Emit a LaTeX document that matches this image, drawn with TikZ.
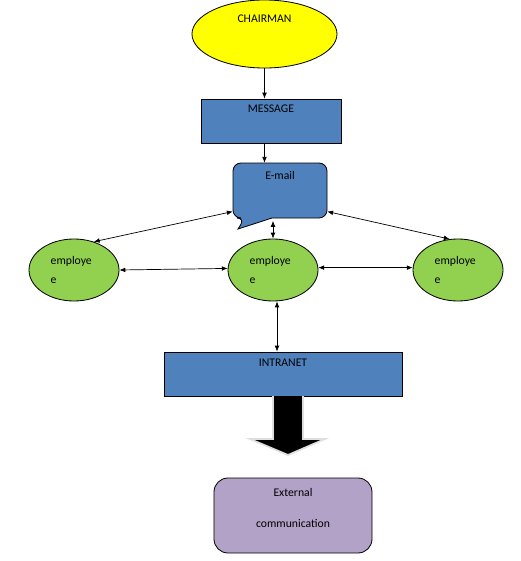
\documentclass[tikz,border=0pt]{standalone}
\usepackage{fontspec}
\setmainfont{Carlito}
\usetikzlibrary{arrows.meta,shapes.geometric}
\definecolor{chairyellow}{HTML}{FFFF00}
\definecolor{boxblue}{HTML}{4F81BD}
\definecolor{empgreen}{HTML}{92D050}
\definecolor{extlilac}{HTML}{B3A2C7}

\tikzset{
  chairnode/.style={ellipse,draw,line width=0.7pt,fill=chairyellow,minimum width=4.35cm,minimum height=2.04cm},
  bluebox/.style={rectangle,draw,line width=0.7pt,fill=boxblue,minimum height=1.32cm},
  empnode/.style={ellipse,draw,line width=0.7pt,fill=empgreen,minimum width=2.7cm,minimum height=1.86cm,
    text width=1.4cm,align=left,inner sep=0pt},
  extbox/.style={rectangle,draw,line width=0.7pt,fill=extlilac,rounded corners=0.42cm,minimum width=4.74cm,minimum height=2.25cm},
  link/.style={semithick,>={Latex[length=5pt,width=4pt]}}
}

\begin{document}
\begin{tikzpicture}[x=0.03cm,y=-0.03cm,font=\fontsize{10}{12}\selectfont]
\useasboundingbox (0,0) rectangle (520,561);

% top of the chart
\node (chair) [chairnode,label={[anchor=center,yshift=-0.57cm]north:CHAIRMAN}] at (264.5,34) {};
\node (msg) [bluebox,minimum width=4.2cm,label={[anchor=center,yshift=-0.3cm]north:MESSAGE}] at (271,121) {};

% e-mail callout
\draw[fill=boxblue,line width=0.7pt] (245,218) -- (238,229) -- (272,218) [rounded corners=0.24cm] -- (327,218) -- (327,163) -- (233,163) -- (233,218) -- cycle;
\node (mail) [minimum width=2.82cm,minimum height=1.65cm,label={[anchor=center,yshift=-0.39cm]north:E-mail}] at (280,190.5) {};

% employees
\node (emp1) [empnode] at (74,270) {employe\\[5pt]e};
\node (emp2) [empnode] at (273,270) {employe\\[5pt]e};
\node (emp3) [empnode] at (458,270) {employe\\[5pt]e};

\node (intra) [bluebox,minimum width=7.14cm,label={[anchor=center,yshift=-0.33cm]north:INTRANET}] at (283,374) {};
\node (ext) [extbox,label={[anchor=center,yshift=-0.45cm]north:External},
  label={[anchor=center,yshift=-1.38cm]north:communication}] at (293,515.5) {};

% connectors
\draw[link,->] (chair.south) -- (chair.south |- msg.north);
\draw[link,->] (chair.south |- msg.south) -- (chair.south |- mail.north);
\draw[link,<->] (mail.204) -- (emp1.55);
\draw[link,<->] (mail.336) -- (emp3.105);
\draw[link,<->] ([yshift=-0.08cm]emp2.north |- mail.south) -- (emp2.north);
\draw[link,<->] (emp1.east) -- (emp2.178);
\draw[link,<->] (emp2.3) -- (emp3.177);
\draw[link,<->] ([xshift=0.12cm]emp2.south) -- ([xshift=0.12cm]emp2.south |- intra.north);

% block arrow
\draw[fill=black,draw=gray!25,line width=1.5pt] (273,396) -- (273,439) -- (250,439) -- (288,455) -- (325,439) -- (303,439) -- (303,396);
\end{tikzpicture}
\end{document}
